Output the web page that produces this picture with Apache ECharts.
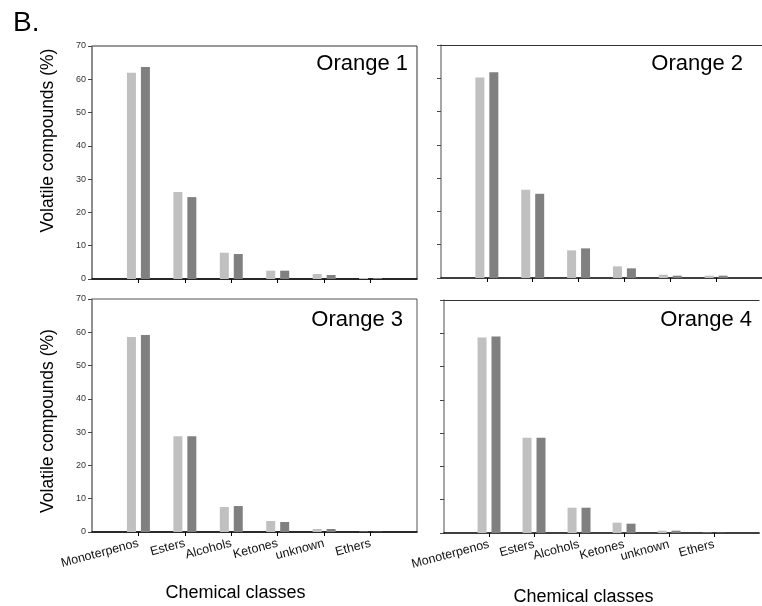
<!DOCTYPE html>
<html>
<head>
<meta charset="utf-8">
<script src="https://cdn.jsdelivr.net/npm/echarts@6/dist/echarts.min.js"></script>
<style>html,body{margin:0;padding:0;background:#fff;}#c{width:762px;height:606px;}</style>
</head>
<body>
<div id="c"></div>
<script>
const categories = ['Monoterpenos','Esters','Alcohols','Ketones','unknown','Ethers'];
const panelTitles = ['Orange 1','Orange 2','Orange 3','Orange 4'];
const yTicks = [0,10,20,30,40,50,60,70];
const o1Light = [62.0, 26.1, 7.9, 2.5, 1.5, 0.3];
const o1Dark  = [63.7, 24.6, 7.5, 2.5, 1.2, 0.3];
const o2Light = [60.2, 26.5, 8.3, 3.5, 1.0, 0.7];
const o2Dark  = [61.8, 25.3, 8.9, 2.9, 0.7, 0.7];
const o3Light = [58.6, 28.8, 7.5, 3.3, 0.9, 0.1];
const o3Dark  = [59.2, 28.8, 7.8, 3.0, 0.9, 0.1];
const o4Light = [58.7, 28.6, 7.6, 3.1, 0.7, 0.1];
const o4Dark  = [59.0, 28.6, 7.6, 2.8, 0.7, 0.1];

const lightSets = [o1Light, o2Light, o3Light, o4Light];
const darkSets = [o1Dark, o2Dark, o3Dark, o4Dark];

const FONT = "'Liberation Sans', Arial, sans-serif";
const axisCats = [''].concat(categories, ['']);

const grids = [
  {left: 92, top: 46, width: 325, height: 233, show: true, borderColor: '#333'},
  {left: 441, top: 45, width: 325, height: 233, show: false},
  {left: 92, top: 299, width: 325, height: 233, show: true, borderColor: '#555'},
  {left: 444, top: 300, width: 325, height: 233, show: false}
].map(g => Object.assign({borderWidth: 1, backgroundColor: 'transparent'}, g));

const xAxes = grids.map((g, i) => ({
  type: 'category', gridIndex: i, data: axisCats, boundaryGap: false,
  axisLine: {show: true, lineStyle: {color: '#000', width: 1.5}},
  axisTick: {show: true, length: 4, inside: false, interval: (idx) => idx > 0 && idx < axisCats.length - 1, lineStyle: {color: '#000'}},
  axisLabel: {show: i >= 2, interval: 0, rotate: 15, fontSize: 12.5, margin: 11, color: '#111', fontFamily: FONT},
  splitLine: {show: false}
}));
// top border lines for the right-hand panels (their right edge falls outside the picture)
[1, 3].forEach(i => xAxes.push({
  type: 'category', gridIndex: i, data: axisCats, boundaryGap: false, position: 'top',
  axisLine: {show: true, lineStyle: {color: '#333', width: 1}},
  axisTick: {show: false}, axisLabel: {show: false}, splitLine: {show: false}
}));

const yAxes = grids.map((g, i) => ({
  type: 'value', gridIndex: i, min: yTicks[0], max: yTicks[yTicks.length - 1], interval: 10,
  axisLine: {show: true, lineStyle: {color: '#888', width: 1.5}},
  axisTick: {show: true, length: 4, inside: false, lineStyle: {color: '#444'}},
  axisLabel: {show: i % 2 === 0, fontSize: 9, color: '#333', margin: 6, fontFamily: FONT},
  splitLine: {show: false}
}));

const series = [];
grids.forEach((g, i) => {
  series.push({
    type: 'bar', xAxisIndex: i, yAxisIndex: i, barWidth: 9, barGap: '55%',
    itemStyle: {color: '#c0c0c0'}, data: ['-'].concat(lightSets[i], ['-'])
  });
  series.push({
    type: 'bar', xAxisIndex: i, yAxisIndex: i, barWidth: 9, barGap: '55%',
    itemStyle: {color: '#808080'}, data: ['-'].concat(darkSets[i], ['-'])
  });
});

const titlePos = [[408, 64], [743, 64], [403, 320], [752, 320]];
const graphics = panelTitles.map((t, i) => ({
  type: 'text', x: titlePos[i][0], y: titlePos[i][1],
  style: {text: t, font: '22px ' + FONT, fill: '#000', textAlign: 'right', textVerticalAlign: 'middle'}
}));
graphics.push({type: 'text', x: 13, y: 23, style: {text: 'B.', font: '28px ' + FONT, fill: '#000', textAlign: 'left', textVerticalAlign: 'middle'}});
[[48, 140.5], [48, 421]].forEach(p => graphics.push({
  type: 'text', x: p[0], y: p[1], rotation: Math.PI / 2,
  style: {text: 'Volatile compounds (%)', font: '17.5px ' + FONT, fill: '#000', textAlign: 'center', textVerticalAlign: 'middle'}
}));
[[235.5, 593], [583.5, 597]].forEach(p => graphics.push({
  type: 'text', x: p[0], y: p[1],
  style: {text: 'Chemical classes', font: '18px ' + FONT, fill: '#000', textAlign: 'center', textVerticalAlign: 'middle'}
}));

const chart = echarts.init(document.getElementById('c'), null, {renderer: 'canvas'});
chart.setOption({
  animation: false,
  backgroundColor: '#fff',
  grid: grids,
  xAxis: xAxes,
  yAxis: yAxes,
  series: series,
  graphic: graphics
});
</script>
</body>
</html>
